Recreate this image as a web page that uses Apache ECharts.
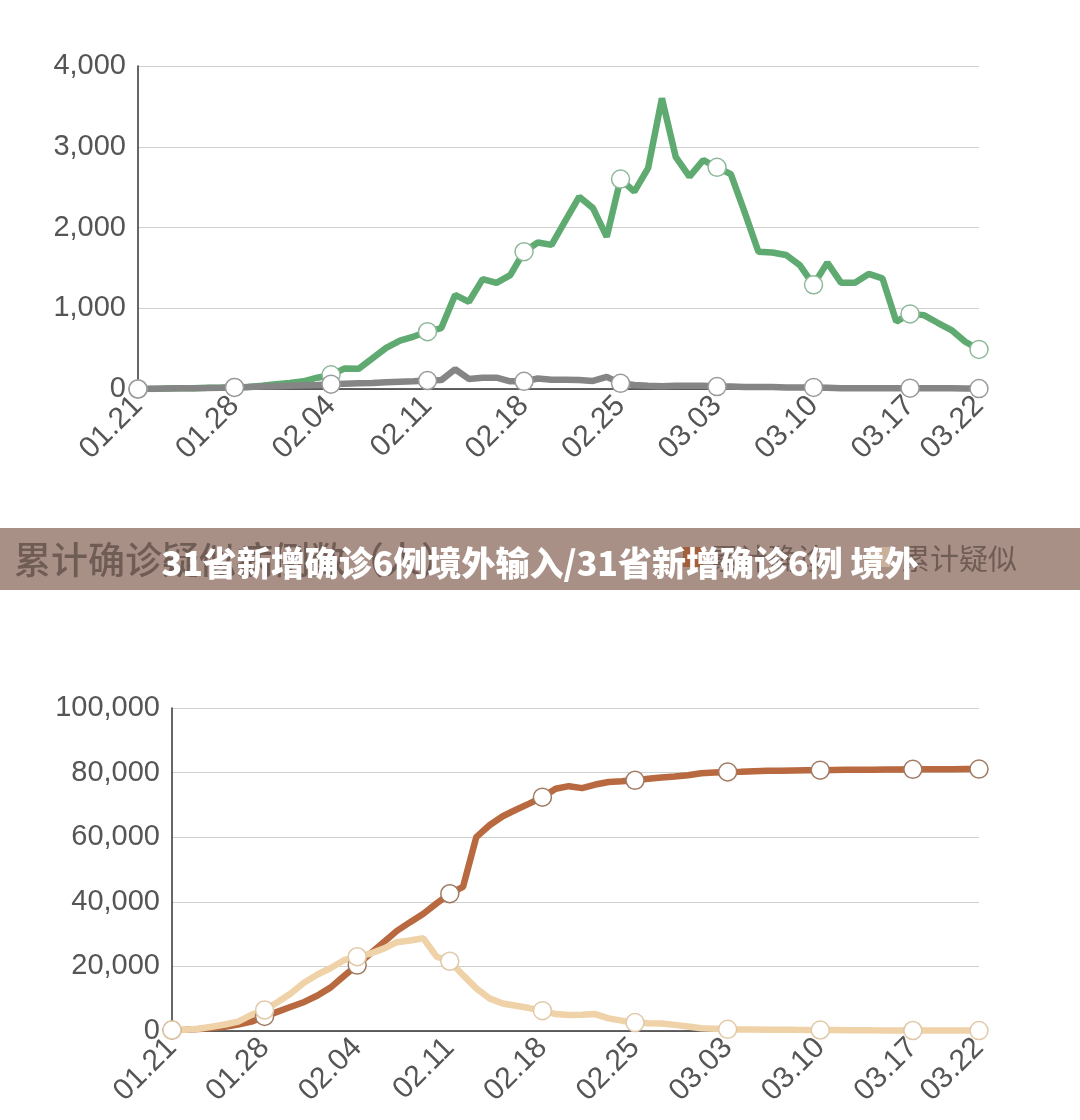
<!DOCTYPE html>
<html>
<head>
<meta charset="utf-8">
<script src="https://cdn.jsdelivr.net/npm/echarts@6/dist/echarts.min.js"></script>
<style>
  html, body { margin: 0; padding: 0; background: #fff; }
  #chart { width: 1080px; height: 1120px; }
</style>
</head>
<body>
<div id="chart"></div>
<script>
// dates 2020-01-21 .. 2020-03-22
const dates = [
  '01.21','01.22','01.23','01.24','01.25','01.26','01.27','01.28','01.29','01.30','01.31',
  '02.01','02.02','02.03','02.04','02.05','02.06','02.07','02.08','02.09','02.10',
  '02.11','02.12','02.13','02.14','02.15','02.16','02.17','02.18','02.19','02.20',
  '02.21','02.22','02.23','02.24','02.25','02.26','02.27','02.28','02.29',
  '03.01','03.02','03.03','03.04','03.05','03.06','03.07','03.08','03.09','03.10',
  '03.11','03.12','03.13','03.14','03.15','03.16','03.17','03.18','03.19','03.20',
  '03.21','03.22'
];

// top chart: daily new (green) and daily new (grey)
const newGreen = [
  0, 0, 5, 10, 10, 15, 15, 20, 25, 40, 60,
  75, 95, 140, 175, 255, 250, 380, 510, 600, 650,
  710, 755, 1165, 1080, 1360, 1315, 1410, 1700, 1815, 1785,
  2085, 2380, 2240, 1885, 2600, 2445, 2735, 3600, 2875,
  2630, 2835, 2745, 2660, 2190, 1700, 1690, 1660, 1535, 1290,
  1565, 1315, 1315, 1425, 1370, 835, 930, 915, 820, 730,
  585, 490
];
const newGrey = [
  0, 3, 5, 8, 10, 12, 15, 20, 25, 30, 35,
  40, 45, 50, 60, 65, 70, 75, 85, 90, 95,
  105, 110, 245, 125, 140, 140, 95, 95, 130, 115,
  115, 110, 100, 150, 70, 50, 40, 35, 40,
  40, 40, 30, 30, 25, 25, 25, 20, 20, 20,
  15, 10, 10, 10, 10, 10, 10, 10, 10, 8,
  5, 5
];

// bottom chart: cumulative confirmed / cumulative suspected
const totalConfirmed = [
  300, 400, 600, 900, 1300, 2000, 2900, 4500, 6000, 7500, 9000,
  11000, 13500, 17000, 20400, 24000, 27500, 31000, 33700, 36300, 39500,
  42500, 44600, 60000, 63700, 66500, 68500, 70400, 72400, 75000, 75800,
  75200, 76300, 77100, 77300, 77600, 78100, 78500, 78800, 79200,
  79800, 80000, 80200, 80300, 80450, 80550, 80600, 80650, 80700, 80750,
  80800, 80850, 80850, 80900, 80950, 80950, 81000, 81000, 81050, 81050,
  81100, 81100
];
const totalSuspected = [
  300, 400, 700, 1300, 2000, 2900, 5000, 6500, 9000, 11700, 15000,
  17500, 19500, 21900, 23000, 24000, 25500, 27500, 28000, 28700, 23000,
  21600, 17300, 13200, 10100, 8500, 7800, 7100, 6300, 5250, 4950,
  5000, 5250, 3900, 3200, 2600, 2400, 2300, 1900, 1400,
  850, 700, 520, 480, 460, 420, 380, 350, 330, 300,
  280, 260, 240, 200, 180, 160, 150, 140, 130, 130,
  130, 130
];

const markIdx = [0, 7, 14, 21, 28, 35, 42, 49, 56, 61];
const showMark = i => markIdx.indexOf(i) >= 0;

const font = 'Liberation Sans, Arial, sans-serif';

function xAxisFor(gridIndex) {
  return {
    type: 'category',
    gridIndex: gridIndex,
    data: dates,
    boundaryGap: false,
    axisTick: { show: false },
    axisLine: { lineStyle: { color: '#333', width: 1.5 } },
    axisLabel: {
      interval: (i) => showMark(i),
      rotate: 45,
      margin: 12,
      color: '#555',
      fontSize: 30,
      fontFamily: font
    },
    splitLine: { show: false }
  };
}

function yAxisFor(gridIndex, max, step) {
  return {
    type: 'value',
    gridIndex: gridIndex,
    min: 0,
    max: max,
    interval: step,
    axisLine: { show: true, lineStyle: { color: '#333', width: 1.5 } },
    axisTick: { show: false },
    axisLabel: {
      margin: 12,
      color: '#555',
      fontSize: 29,
      fontFamily: font,
      formatter: v => v.toLocaleString('en-US')
    },
    splitLine: { lineStyle: { color: '#cfcfcf', width: 1.2 } }
  };
}

function lineSeries(name, data, color, border, axisIdx) {
  return {
    name: name,
    type: 'line',
    xAxisIndex: axisIdx,
    yAxisIndex: axisIdx,
    data: data,
    showAllSymbol: true,
    symbol: 'circle',
    symbolSize: (v, p) => showMark(p.dataIndex) ? 18 : 0,
    lineStyle: { color: color, width: 6.5 },
    itemStyle: { color: '#fff', borderColor: border, borderWidth: 1.5 },
    emphasis: { disabled: true },
    animation: false
  };
}

const chart = echarts.init(document.getElementById('chart'));

chart.setOption({
  backgroundColor: '#fff',
  grid: [
    { left: 138, top: 66, width: 841, height: 323 },
    { left: 172, top: 708, width: 807, height: 323 }
  ],
  xAxis: [xAxisFor(0), xAxisFor(1)],
  yAxis: [yAxisFor(0, 4000, 1000), yAxisFor(1, 100000, 20000)],
  series: [
    lineSeries('新增疑似', newGreen, '#5eaa70', '#8fb89a', 0),
    lineSeries('新增确诊', newGrey, '#858585', '#9a9a9a', 0),
    lineSeries('累计确诊', totalConfirmed, '#b8693f', '#a07a62', 1),
    lineSeries('累计疑似', totalSuspected, '#efd2a8', '#e0c9a8', 1)
  ],
  graphic: [
    {
      type: 'rect',
      shape: { x: 0, y: 528, width: 1080, height: 62 },
      style: { fill: '#a99087' },
      z: 10
    },
    {
      type: 'text',
      x: 14, y: 560,
      style: {
        text: '累计确诊疑似病例数（人）',
        fill: '#6f5c55',
        font: '500 37px "Noto Sans CJK SC"',
        textVerticalAlign: 'middle'
      },
      z: 11
    },
    {
      type: 'rect',
      shape: { x: 683, y: 547, width: 20, height: 20 },
      style: { fill: '#a35e3b' },
      z: 11
    },
    {
      type: 'text',
      x: 710, y: 559,
      style: {
        text: '累计确诊',
        fill: '#6f5c55',
        font: '29px "Noto Sans CJK SC"',
        textVerticalAlign: 'middle'
      },
      z: 11
    },
    {
      type: 'rect',
      shape: { x: 870, y: 547, width: 20, height: 20 },
      style: { fill: '#c9b09a' },
      z: 11
    },
    {
      type: 'text',
      x: 901, y: 559,
      style: {
        text: '累计疑似',
        fill: '#6f5c55',
        font: '29px "Noto Sans CJK SC"',
        textVerticalAlign: 'middle'
      },
      z: 11
    },
    {
      type: 'text',
      x: 540, y: 563,
      style: {
        text: '31省新增确诊6例境外输入/31省新增确诊6例 境外',
        fill: '#ffffff',
        font: '900 34px "Noto Sans CJK SC"',
        textAlign: 'center',
        textVerticalAlign: 'middle'
      },
      z: 12
    }
  ]
});
</script>
</body>
</html>
